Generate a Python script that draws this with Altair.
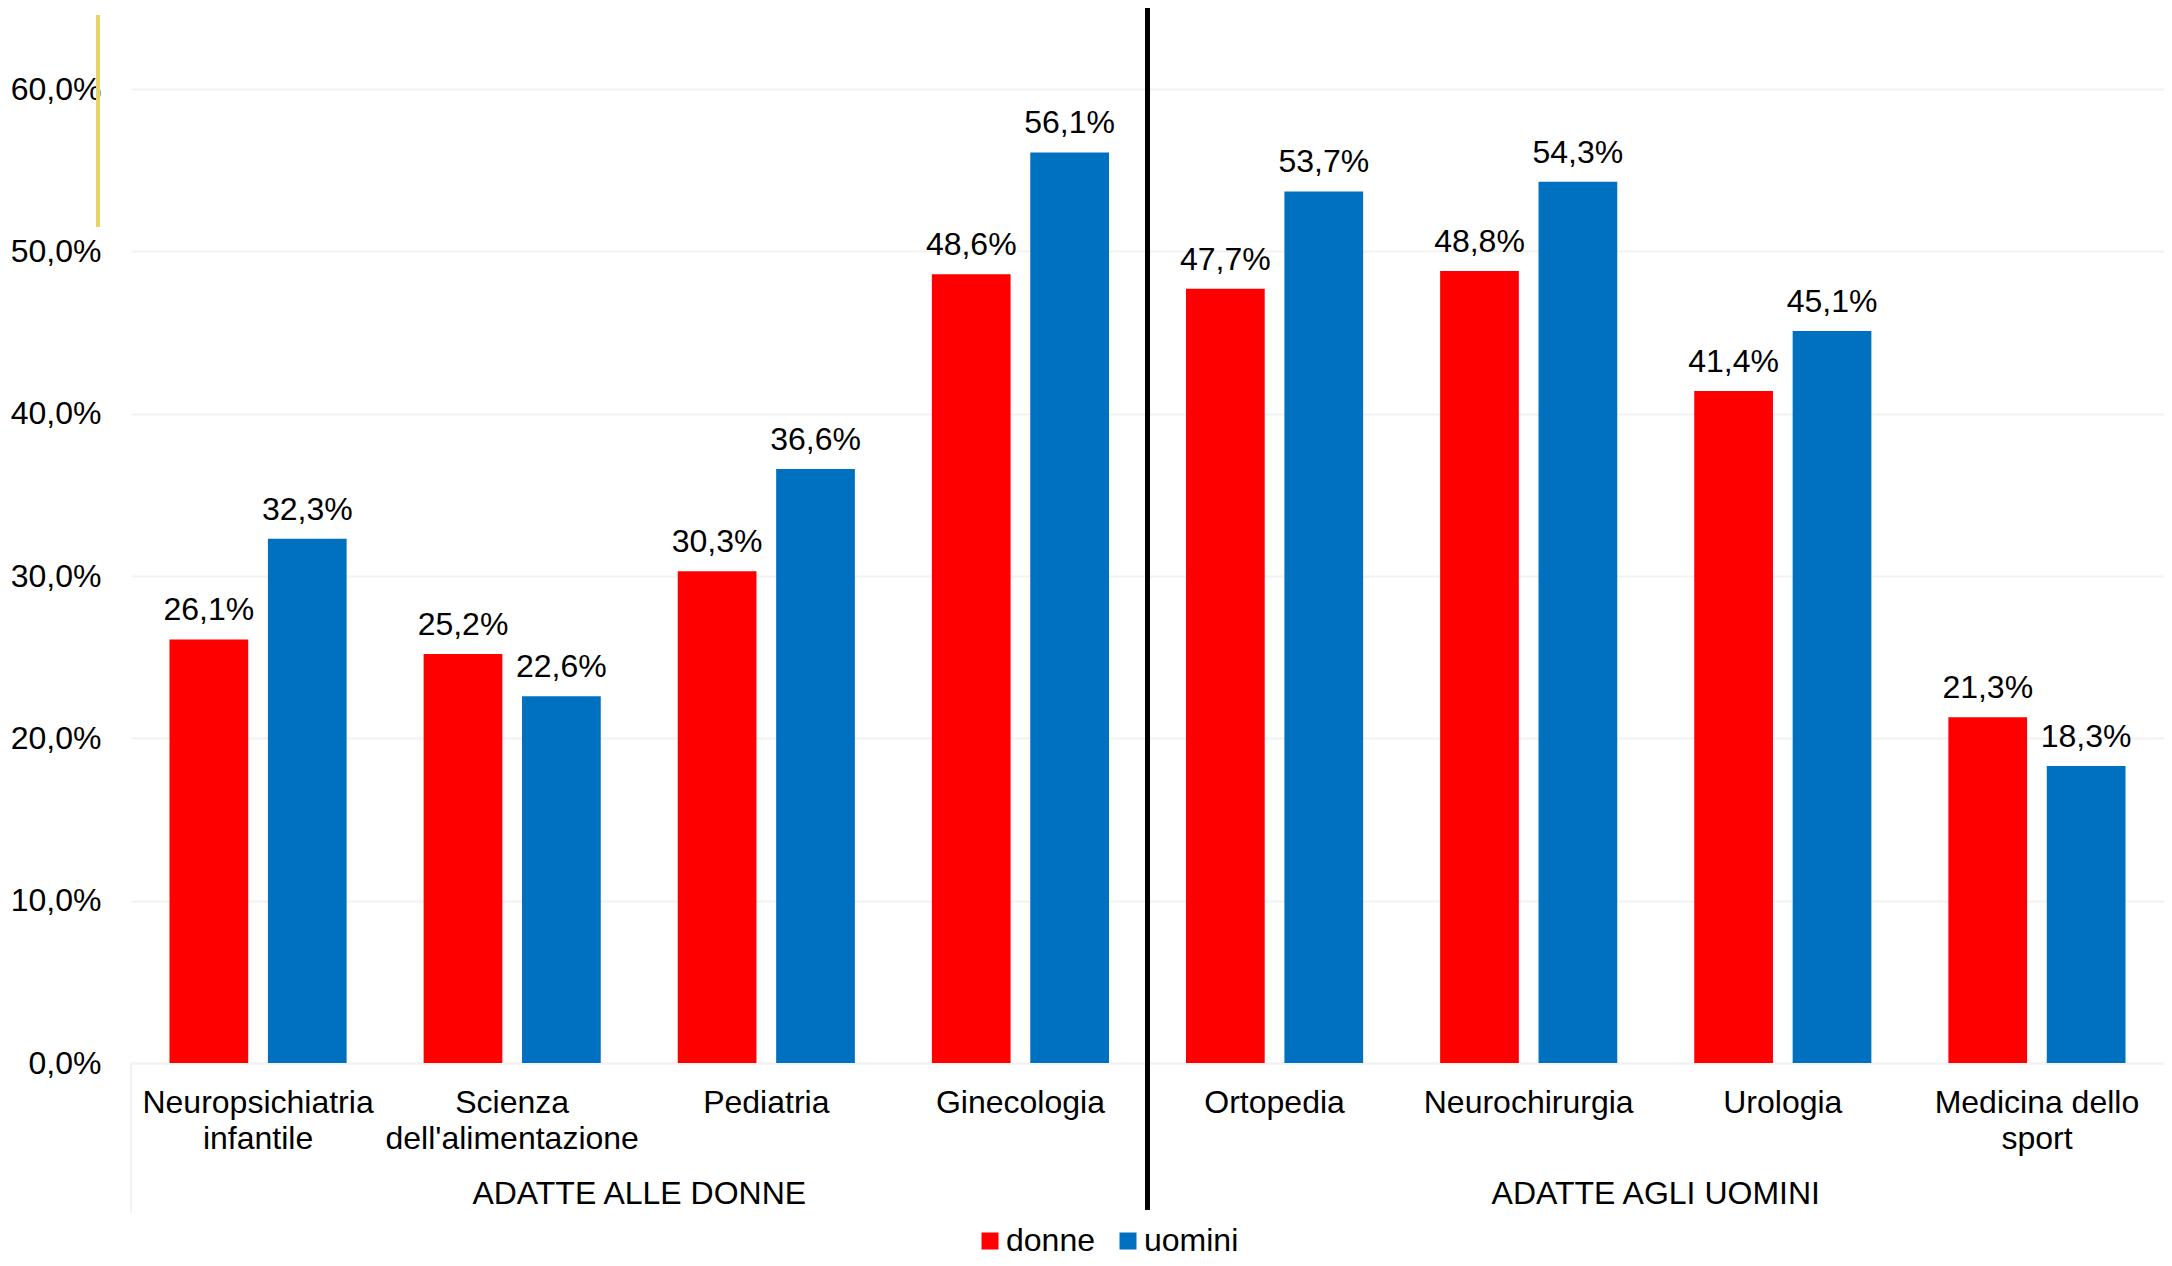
import altair as alt
import pandas as pd

# ---- data ----
categorie = [
    "Neuropsichiatria\ninfantile",
    "Scienza\ndell'alimentazione",
    "Pediatria",
    "Ginecologia",
    "Ortopedia",
    "Neurochirurgia",
    "Urologia",
    "Medicina dello\nsport",
]
donne = [26.1, 25.2, 30.3, 48.6, 47.7, 48.8, 41.4, 21.3]
uomini = [32.3, 22.6, 36.6, 56.1, 53.7, 54.3, 45.1, 18.3]
serie = ["donne", "uomini"]
colori = ["#FF0000", "#0070C0"]
gruppi = ["ADATTE ALLE DONNE", "ADATTE AGLI UOMINI"]
y_ticks = [0, 10, 20, 30, 40, 50, 60]

FONT = "Liberation Sans"
FS = 32
W, H = 2033, 1055
P_IN, P_OUT = 0.303, 0.1515
N = len(categorie)
PER_GRUPPO = N // len(gruppi)
LIGHT = "#f2f2f2"

df = pd.DataFrame({
    "categoria": categorie * 2,
    "serie": [serie[0]] * N + [serie[1]] * N,
    "valore": donne + uomini,
})

fmt = "replace(format(datum.valore, '.1f'), '.', ',') + '%'"

x_scale = alt.Scale(domain=categorie, paddingInner=P_IN, paddingOuter=P_OUT)

x_main = alt.X(
    "categoria:N",
    sort=categorie,
    scale=x_scale,
    axis=alt.Axis(
        title=None,
        labelExpr="split(datum.label, '\\n')",
        labelFontSize=FS,
        labelFont=FONT,
        labelColor="black",
        labelAngle=0,
        labelLimit=600,
        labelLineHeight=36,
        labelBaseline="top",
        labelPadding=24,
        ticks=False,
        tickSize=0,
        domainColor=LIGHT,
        domainWidth=2,
        grid=False,
    ),
)

x_off = alt.XOffset("serie:N", sort=serie, scale=alt.Scale(paddingInner=0.2))

y_enc = alt.Y(
    "valore:Q",
    scale=alt.Scale(domain=[0, 65], nice=False),
    axis=alt.Axis(
        title=None,
        values=y_ticks,
        labelExpr="replace(format(datum.value, '.1f'), '.', ',') + '%'",
        labelFontSize=FS,
        labelFont=FONT,
        labelColor="black",
        labelPadding=30,
        ticks=False,
        tickSize=0,
        domain=False,
        grid=True,
        gridColor=LIGHT,
        gridWidth=2,
    ),
)

base = alt.Chart(df)

bars = base.mark_bar().encode(
    x=x_main,
    xOffset=x_off,
    y=y_enc,
    color=alt.Color(
        "serie:N",
        scale=alt.Scale(domain=serie, range=colori),
        legend=alt.Legend(
            title=None,
            orient="none",
            legendX=843,
            legendY=1217,
            direction="horizontal",
            symbolType="square",
            symbolSize=289,
            symbolStrokeWidth=0,
            labelFontSize=FS,
            labelFont=FONT,
            labelColor="black",
            labelOffset=0,
            columnPadding=17,
        ),
    ),
)

labels = base.transform_calculate(etichetta=fmt).mark_text(
    fontSize=FS, font=FONT, color="black", baseline="alphabetic", dy=-19
).encode(
    x=alt.X("categoria:N", sort=categorie, scale=x_scale),
    xOffset=x_off,
    y=alt.Y("valore:Q"),
    text="etichetta:N",
)

# position scale in "category units" for the decorations (0 .. N)
pos_scale = alt.Scale(domain=[0, N], nice=False, zero=False)
pos_axis = alt.Axis(labels=False, ticks=False, domain=False, grid=False, title=None)

df_g = pd.DataFrame({
    "pos": [PER_GRUPPO * (i + 0.5) for i in range(len(gruppi))],
    "gruppo": gruppi,
})
group_text = alt.Chart(df_g).mark_text(
    fontSize=FS, font=FONT, color="black", baseline="middle"
).encode(
    x=alt.X("pos:Q", scale=pos_scale, axis=pos_axis),
    y=alt.value(1186),
    text="gruppo:N",
)

df_div = pd.DataFrame({"pos": [PER_GRUPPO]})
divider = alt.Chart(df_div).mark_rule(color="black", strokeWidth=5).encode(
    x=alt.X("pos:Q", scale=pos_scale, axis=pos_axis),
    y=alt.value(0),
    y2=alt.value(1202),
)

df_edge = pd.DataFrame({"pos": [0]})
left_edge = alt.Chart(df_edge).mark_rule(color=LIGHT, strokeWidth=2).encode(
    x=alt.X("pos:Q", scale=pos_scale, axis=pos_axis),
    y=alt.value(H),
    y2=alt.value(1205),
)

yellow = alt.Chart(df_edge).mark_rule(color="#E8D36A", strokeWidth=4).encode(
    x=alt.value(-33),
    y=alt.value(7),
    y2=alt.value(219),
)

cat_layers = alt.layer(bars, labels)
deco_layers = alt.layer(left_edge, group_text, divider, yellow)

chart = (
    alt.layer(cat_layers, deco_layers)
    .resolve_scale(x="independent")
    .resolve_axis(x="independent")
    .properties(
        width=W,
        height=H,
        padding={"left": 123, "top": 0, "right": 0, "bottom": 195},
        autosize=alt.AutoSizeParams(type="none"),
        background="white",
    )
    .configure_view(stroke=None)
    .configure_text(font=FONT)
)

chart.save("out.html", embed_options={"renderer": "svg", "actions": False})
